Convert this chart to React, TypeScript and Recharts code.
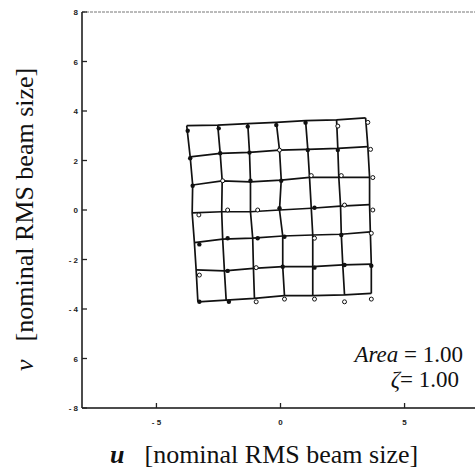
import React from 'react';
import { ScatterChart, Scatter, XAxis, YAxis, Label } from 'recharts';

const xTicks = [-5, 0, 5];
const xTickLabels = ['- 5', '0', '5'];
const yTicks = [8, 6, 4, 2, 0, -2, -4, -6, -8];
const yTickLabels = ['8', '6', '4', '2', '0', '- 2', '- 4', '6', '- 8'];

// mesh nodes, top row first, left to right
const meshU = [
  [-3.78, -2.53, -1.32, -0.17, 1.01, 2.26, 3.43],
  [-3.64, -2.43, -1.25, -0.04, 1.1, 2.31, 3.52],
  [-3.54, -2.35, -1.21, 0.03, 1.17, 2.35, 3.59],
  [-3.56, -2.37, -1.21, -0.04, 1.24, 2.42, 3.59],
  [-3.47, -2.33, -1.12, 0.09, 1.3, 2.45, 3.62],
  [-3.4, -2.26, -1.09, 0.09, 1.3, 2.51, 3.66],
  [-3.33, -2.19, -1.05, 0.16, 1.3, 2.58, 3.66],
];
const meshV = [
  [3.41, 3.43, 3.49, 3.54, 3.61, 3.64, 3.72],
  [2.15, 2.29, 2.33, 2.42, 2.45, 2.49, 2.56],
  [1.01, 1.18, 1.14, 1.21, 1.32, 1.32, 1.32],
  [-0.12, -0.07, -0.07, 0, 0.07, 0.16, 0.22],
  [-1.32, -1.18, -1.14, -1.05, -1.01, -0.98, -0.88],
  [-2.42, -2.46, -2.36, -2.29, -2.29, -2.22, -2.19],
  [-3.71, -3.64, -3.57, -3.46, -3.46, -3.43, -3.37],
];

// tracked particles drawn as solid dots
const filledU = [-3.74, -2.49, -1.32, -0.17, 1.01, -3.64, -2.43, -1.25, 1.1, 2.31, -3.54, -1.21, 0.03, -0.04, 1.37, -3.27, -2.13, -0.92, 0.16, 2.45, -2.13, 0.09, 1.37, 2.58, 3.66, -3.27, -2.08];
const filledV = [3.2, 3.3, 3.37, 3.43, 3.53, 2.09, 2.29, 2.32, 2.42, 2.42, 0.98, 1.18, 1.18, 0.07, 0.09, -1.39, -1.14, -1.14, -1.08, -1.01, -2.46, -2.29, -2.33, -2.22, -2.25, -3.71, -3.71];

// particles drawn as open circles
const openU = [2.31, 3.52, -0.04, 3.63, -2.33, 1.24, 2.45, 3.72, -3.29, -2.13, -0.92, 2.58, 3.72, 1.37, 3.66, -3.27, -0.98, -0.98, 0.16, 1.37, 2.58, 3.66];
const openV = [3.39, 3.54, 2.42, 2.45, 1.18, 1.39, 1.39, 1.31, -0.2, 0, 0, 0.2, 0, -1.14, -0.94, -2.63, -2.33, -3.71, -3.6, -3.6, -3.71, -3.6];

const rows = meshU.map((row, r) => row.map((u, c) => ({ u, v: meshV[r][c] })));
const cols = meshU[0].map((_, c) => meshU.map((row, r) => ({ u: row[c], v: meshV[r][c] })));
const filledPts = filledU.map((u, i) => ({ u, v: filledV[i] }));
const openPts = openU.map((u, i) => ({ u, v: openV[i] }));

const GAP = 6;
const tickFont = { fontFamily: 'Liberation Sans, Arial, sans-serif', fontSize: 8, fontWeight: 700, fill: '#222' };
const serif = 'Liberation Serif, Times New Roman, serif';

const BottomTick = (props: any) => {
  const { x, y, payload } = props;
  const i = xTicks.indexOf(payload.value);
  return (
    <g>
      <line x1={x} x2={x} y1={y - GAP} y2={y - GAP - 5} stroke="#222" strokeWidth={1.3} />
      <text x={x} y={y + 11} textAnchor="middle" {...tickFont}>{xTickLabels[i]}</text>
    </g>
  );
};

const LeftTick = (props: any) => {
  const { x, y, payload } = props;
  const i = yTicks.indexOf(payload.value);
  return (
    <g>
      <line x1={x + GAP} x2={x + GAP + 5} y1={y} y2={y} stroke="#222" strokeWidth={1.3} />
      <text x={x + 2} y={y + 3} textAnchor="end" {...tickFont}>{yTickLabels[i]}</text>
    </g>
  );
};

const TopTick = (props: any) => {
  const { x, y } = props;
  return <line x1={x} x2={x} y1={y} y2={y + 5} stroke="#333" strokeWidth={1.3} />;
};

const RightTick = (props: any) => {
  const { x, y } = props;
  return <line x1={x} x2={x - 5} y1={y} y2={y} stroke="#333" strokeWidth={1.3} />;
};

const noShape = () => <g />;
const dot = (p: any) => <circle cx={p.cx} cy={p.cy} r={2.2} fill="#111" />;
const ring = (p: any) => <circle cx={p.cx} cy={p.cy} r={2} fill="#fff" stroke="#111" strokeWidth={1} />;

const App: React.FC = () => {
  return (
    <div style={{ position: 'absolute', left: 0, top: 0, width: 475, height: 468, overflow: 'hidden', background: '#fff' }}>
      <ScatterChart width={490} height={468} margin={{ top: 7, right: 6, bottom: 0, left: 0 }}>
        <XAxis
          type="number"
          dataKey="u"
          domain={[-8, 8]}
          ticks={xTicks}
          height={60}
          tickSize={0}
          tickMargin={GAP}
          tickLine={false}
          tick={<BottomTick />}
          axisLine={{ stroke: '#111', strokeWidth: 1.5 }}
          allowDataOverflow
        >
          <Label
            content={() => (
              <text x={110} y={463} fontFamily={serif} fontSize={26} fill="#111">
                <tspan fontStyle="italic" fontWeight={700}>u</tspan>
                <tspan dx={20}>[nominal RMS beam size]</tspan>
              </text>
            )}
          />
        </XAxis>
        <XAxis
          xAxisId="top"
          orientation="top"
          type="number"
          dataKey="u"
          domain={[-8, 8]}
          ticks={xTicks}
          height={5}
          tickSize={0}
          tickMargin={0}
          tickLine={false}
          tick={<TopTick />}
          axisLine={{ stroke: '#777', strokeWidth: 1, strokeDasharray: '3 1' }}
        />
        <YAxis
          type="number"
          dataKey="v"
          domain={[-8, 8]}
          ticks={yTicks}
          width={82}
          tickSize={0}
          tickMargin={GAP}
          tickLine={false}
          tick={<LeftTick />}
          axisLine={{ stroke: '#111', strokeWidth: 1.5 }}
          allowDataOverflow
        >
          <Label
            content={() => (
              <text transform="rotate(-90)" x={-371} y={33} fontFamily={serif} fontSize={26} fill="#111">
                <tspan fontStyle="italic">ν</tspan>
                <tspan dx={18}>[nominal RMS beam size]</tspan>
              </text>
            )}
          />
          <Label
            content={() => (
              <g fontFamily={serif} fontSize={23} fill="#111">
                <text x={463} y={362} textAnchor="end">
                  <tspan fontStyle="italic">Area</tspan> = 1.00
                </text>
                <text x={459} y={387} textAnchor="end">
                  <tspan fontStyle="italic">ζ</tspan>= 1.00
                </text>
              </g>
            )}
          />
        </YAxis>
        <YAxis
          yAxisId="right"
          orientation="right"
          type="number"
          dataKey="v"
          domain={[-8, 8]}
          ticks={yTicks}
          width={5}
          tickSize={0}
          tickMargin={0}
          tickLine={false}
          tick={<RightTick />}
          axisLine={{ stroke: '#333', strokeWidth: 1 }}
        />
        {rows.map((d, i) => (
          <Scatter key={'r' + i} data={d} line={{ stroke: '#111', strokeWidth: 1.7 }} shape={noShape} isAnimationActive={false} />
        ))}
        {cols.map((d, i) => (
          <Scatter key={'c' + i} data={d} line={{ stroke: '#111', strokeWidth: 1.7 }} shape={noShape} isAnimationActive={false} />
        ))}
        <Scatter data={filledPts} shape={dot} isAnimationActive={false} />
        <Scatter data={openPts} shape={ring} isAnimationActive={false} />
      </ScatterChart>
    </div>
  );
};

export default App;
